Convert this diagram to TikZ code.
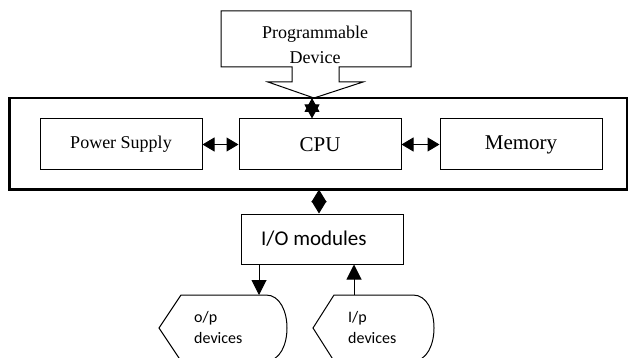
\documentclass[tikz,border=0pt]{standalone}
\usepackage{fontspec}
\setmainfont{Liberation Serif}
\newfontfamily\calib{Carlito}
\usetikzlibrary{arrows.meta}
\begin{document}
\begin{tikzpicture}[x=1pt,y=-1pt,
  box/.style={draw,line width=1pt,rectangle,inner sep=0pt},
  biarrow/.style={line width=1pt,{Triangle[length=12pt,width=14pt]}-{Triangle[length=12pt,width=14pt]}},
  stararrow/.style={line width=1pt,{Triangle[length=14pt,width=15pt]}-{Triangle[length=14pt,width=15pt]}},
  diamarrow/.style={line width=1pt,{Triangle[length=12.5pt,width=15pt]}-{Triangle[length=12.5pt,width=15pt]}},
  onearrow/.style={line width=1pt,-{Triangle[length=15pt,width=15pt]}},
  shapeline/.style={draw,line width=1pt,line join=miter}
]
\useasboundingbox (0,0) rectangle (631,358);
% Programmable device callout
\draw[shapeline] (221,11) -- (411,11) -- (411,67) -- (339,67) -- (339,82) -- (363,82)
  -- (314,98) -- (268,82) -- (292,82) -- (292,67) -- (221,67) -- cycle;
\node[font=\fontsize{18}{25}\selectfont,align=center] (prog) at (315,44.5) {Programmable\\Device};
\coordinate (tip) at (312,98);
% outer frame
\node[box,line width=1.1pt,minimum width=617pt,minimum height=91pt] (outer) at (318.5,143.5) {};
\draw[line width=2pt] (outer.north west) -- (outer.south west) -- (outer.south east);
\node[box,minimum width=162pt,minimum height=51pt,font=\fontsize{18}{22}\selectfont] (ps) at (121,144.5) {Power Supply};
\node[box,minimum width=162pt,minimum height=51pt,font=\fontsize{21}{25}\selectfont] (cpu) at (320,144.5) {CPU};
\node[box,minimum width=162pt,minimum height=51pt,font=\fontsize{21}{25}\selectfont] (mem) at (521,144.5) {Memory};
\draw[biarrow] (ps) -- (cpu);
\draw[biarrow] (cpu) -- (mem);
\draw[stararrow] (tip) -- (tip |- cpu.north);
% I/O
\node[box,minimum width=162pt,minimum height=50pt] (io) at (322,239) {};
\node[font=\calib\fontsize{21}{25}\selectfont,anchor=west,inner sep=0pt] (iotext) at (261,239) {I/O modules};
\coordinate (iox) at (319,200);
\draw[diamarrow] (iox |- outer.south) -- (iox |- io.north);
% o/p device
\draw[shapeline] (159,328) -- (181,295) -- (266,295) .. controls (294,295) and (294,361) .. (266,361) -- (181,361) -- cycle;
\node[font=\calib\fontsize{16}{21}\selectfont,align=left,anchor=west,inner sep=0pt] (op) at (194,327.5) {o/p\\devices};
% I/p device
\draw[shapeline] (313,328) -- (334,295) -- (413,295) .. controls (441,295) and (441,361) .. (413,361) -- (334,361) -- cycle;
\node[font=\calib\fontsize{16}{21}\selectfont,align=left,anchor=west,inner sep=0pt] (ip) at (348,327.5) {I/p\\devices};
\coordinate (optop) at (259,295);
\coordinate (iptop) at (354,295);
\draw[onearrow] (optop |- io.south) -- (optop);
\draw[onearrow] (iptop) -- (iptop |- io.south);
\end{tikzpicture}
\end{document}
